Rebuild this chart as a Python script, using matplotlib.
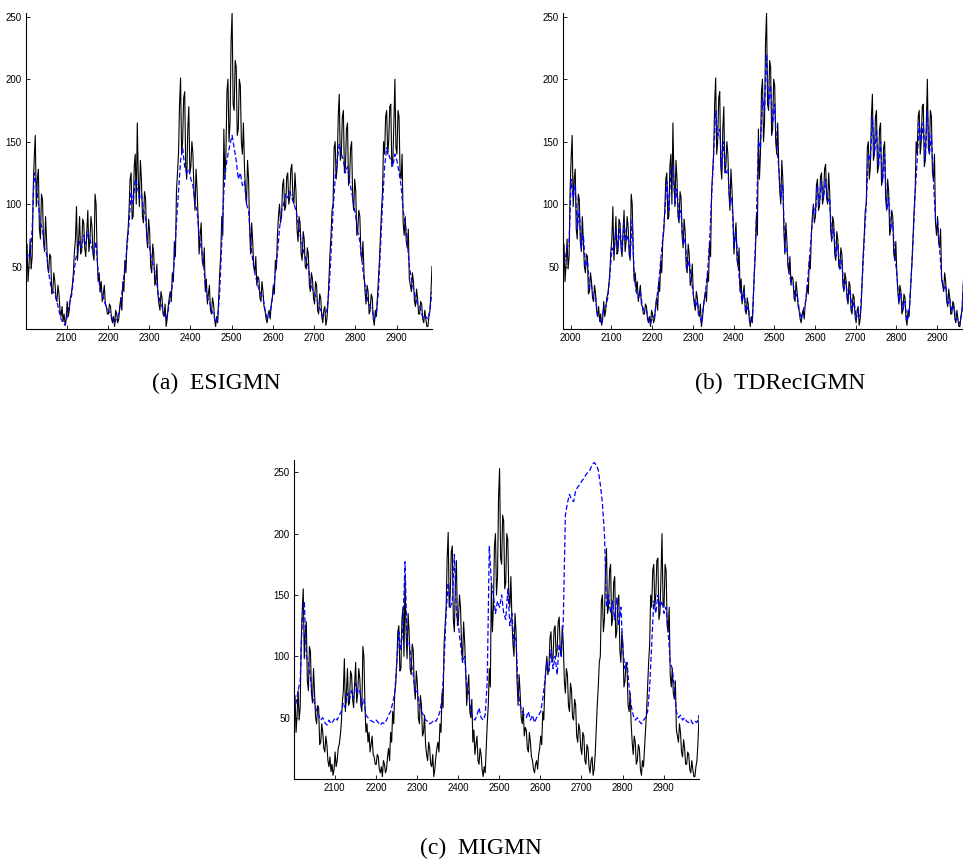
import matplotlib.pyplot as plt
import numpy as np

plt.rcParams['font.family'] = ['Liberation Sans', 'DejaVu Sans']

# sample index of the observed series (every 2.5 months) and of the predictions (every 5)
months_obs = np.arange(2001, 2986.1, 2.5)
months = np.arange(2001, 2987, 5)

# observed series (black)
sunspots = [55, 68, 38, 52, 72, 48, 58, 112, 137, 155, 98, 120, 128, 80, 72, 108, 104, 70, 62, 90,
            70, 50, 45, 60, 58, 28, 30, 45, 38, 25, 22, 35, 28, 15, 10, 18, 6, 12, 3, 8,
            22, 10, 15, 25, 28, 35, 45, 62, 72, 98, 55, 70, 90, 60, 62, 88, 85, 65, 58, 78,
            95, 62, 70, 90, 82, 60, 55, 108, 100, 60, 38, 45, 30, 38, 22, 28, 35, 20, 18, 12,
            12, 20, 18, 8, 5, 10, 2, 15, 12, 5, 8, 18, 25, 15, 38, 30, 55, 45, 70, 78,
            95, 120, 125, 88, 90, 130, 140, 100, 165, 120, 98, 135, 120, 90, 85, 110, 105, 75, 65, 88,
            78, 50, 45, 68, 60, 35, 38, 52, 28, 20, 15, 30, 25, 12, 10, 20, 2, 8, 18, 25,
            30, 22, 45, 38, 70, 58, 110, 125, 140, 180, 201, 140, 150, 185, 190, 130, 120, 160, 178, 125,
            130, 150, 140, 110, 95, 128, 112, 90, 60, 75, 85, 55, 50, 65, 30, 40, 20, 28, 35, 15,
            12, 25, 20, 8, 2, 10, 5, 25, 45, 60, 90, 75, 160, 120, 140, 190, 200, 150, 165, 230,
            253, 180, 175, 215, 210, 155, 160, 200, 195, 150, 140, 165, 130, 110, 100, 135, 120, 80, 60, 85,
            70, 50, 45, 58, 35, 42, 40, 25, 22, 38, 30, 18, 15, 8, 5, 12, 15, 8, 20, 25,
            35, 28, 55, 48, 75, 90, 100, 85, 90, 115, 120, 95, 98, 122, 125, 100, 105, 128, 132, 105,
            100, 125, 110, 80, 70, 90, 85, 60, 55, 78, 72, 50, 48, 65, 60, 35, 30, 45, 40, 25,
            20, 38, 35, 15, 12, 28, 25, 10, 5, 15, 18, 3, 8, 20, 40, 60, 75, 95, 100, 145,
            150, 120, 130, 170, 188, 135, 140, 170, 175, 125, 130, 160, 165, 115, 120, 145, 150, 105, 95, 120,
            110, 75, 80, 95, 90, 60, 55, 70, 45, 30, 20, 35, 30, 12, 15, 28, 25, 8, 3, 15,
            10, 25, 40, 55, 75, 95, 110, 150, 140, 170, 175, 140, 150, 178, 180, 130, 135, 165, 200, 145,
            140, 175, 170, 125, 120, 140, 85, 75, 90, 70, 65, 80, 40, 35, 30, 45, 38, 22, 18, 32,
            25, 12, 12, 22, 20, 8, 5, 15, 8, 2, 2, 10, 15, 30, 50]

# (a) ESIGMN prediction
esigmn = [50, 60, 58, 80, 125, 115, 100, 85, 80, 65,
          60, 45, 35, 30, 28, 22, 15, 8, 5, 3,
          10, 20, 25, 40, 55, 62, 70, 65, 75, 68,
          78, 72, 65, 60, 70, 45, 30, 28, 22, 18,
          15, 12, 8, 5, 8, 12, 22, 35, 50, 65,
          85, 110, 100, 120, 115, 105, 108, 95, 90, 70,
          65, 55, 50, 42, 30, 22, 18, 12, 8, 15,
          25, 35, 55, 85, 110, 135, 145, 130, 125, 128,
          120, 115, 100, 95, 75, 65, 55, 35, 25, 22,
          15, 12, 5, 8, 30, 70, 110, 130, 140, 148,
          155, 145, 135, 120, 125, 115, 118, 100, 95, 70,
          55, 45, 38, 32, 28, 25, 15, 8, 10, 18,
          30, 45, 60, 80, 95, 100, 108, 105, 110, 105,
          100, 95, 85, 75, 68, 60, 55, 50, 38, 32,
          28, 25, 18, 15, 10, 12, 15, 30, 60, 95,
          120, 135, 148, 140, 135, 125, 130, 118, 110, 100,
          90, 78, 70, 55, 40, 30, 22, 18, 15, 8,
          12, 30, 65, 100, 130, 145, 140, 135, 130, 140,
          135, 125, 115, 95, 85, 70, 50, 40, 32, 25,
          20, 18, 12, 8, 10, 8, 15, 30]

# (b) TDRecIGMN prediction
tdrecigmn = [52, 55, 65, 70, 120, 105, 115, 80, 95, 65,
             75, 50, 55, 32, 35, 25, 25, 10, 8, 4,
             18, 18, 25, 42, 65, 60, 80, 65, 80, 62,
             85, 70, 75, 58, 88, 42, 30, 25, 30, 18,
             14, 15, 7, 4, 10, 10, 24, 36, 55, 72,
             92, 118, 95, 128, 130, 100, 112, 88, 95, 68,
             72, 48, 55, 40, 28, 18, 22, 12, 5, 18,
             30, 45, 70, 105, 140, 175, 155, 160, 128, 150,
             125, 128, 100, 105, 65, 78, 52, 32, 22, 30,
             14, 18, 5, 6, 45, 88, 150, 145, 185, 175,
             220, 180, 195, 165, 180, 145, 130, 105, 115, 62,
             65, 45, 38, 38, 25, 28, 16, 8, 15, 20,
             35, 55, 75, 98, 92, 115, 100, 118, 105, 120,
             102, 105, 72, 80, 58, 68, 48, 55, 32, 38,
             22, 32, 15, 22, 8, 15, 10, 38, 72, 100,
             140, 135, 170, 140, 160, 130, 150, 118, 140, 95,
             105, 80, 85, 58, 45, 22, 28, 16, 22, 6,
             12, 40, 72, 108, 135, 165, 150, 165, 135, 175,
             140, 155, 118, 88, 88, 65, 42, 32, 35, 20,
             24, 14, 18, 7, 8, 4, 14, 45]

# (c) MIGMN prediction
migmn = [55, 62, 72, 80, 130, 145, 100, 95, 82, 68,
         62, 55, 52, 48, 50, 46, 44, 48, 45, 47,
         50, 48, 52, 55, 62, 58, 70, 65, 72, 66,
         78, 70, 72, 60, 65, 52, 50, 48, 47, 46,
         48, 46, 44, 46, 45, 48, 52, 55, 62, 70,
         95, 120, 105, 125, 177, 110, 112, 95, 85, 70,
         72, 60, 55, 52, 48, 47, 45, 46, 48, 47,
         50, 55, 65, 95, 135, 160, 140, 145, 183, 135,
         125, 110, 95, 100, 75, 70, 55, 50, 48, 52,
         58, 50, 48, 52, 80, 190, 160, 150, 135, 145,
         140, 150, 135, 130, 155, 125, 135, 110, 115, 72,
         60, 55, 52, 50, 55, 48, 52, 46, 50, 52,
         55, 65, 80, 95, 88, 105, 90, 100, 85, 110,
         100, 130, 215, 225, 232, 228, 226, 235, 238, 240,
         243, 245, 248, 250, 252, 256, 258, 256, 252, 240,
         225, 200, 140, 150, 135, 145, 130, 148, 125, 140,
         105, 90, 95, 75, 60, 52, 48, 50, 47, 45,
         48, 50, 55, 75, 110, 145, 135, 150, 140, 145,
         135, 140, 120, 95, 90, 75, 55, 50, 52, 48,
         50, 47, 46, 48, 45, 47, 46, 52]

fig = plt.figure(figsize=(9.63, 8.68), dpi=100)
W, H = 963.0, 868.0


def panel(left, top, width, height, shift, pred, xlim, ylim, xticks):
    ax = fig.add_axes([left / W, 1 - (top + height) / H, width / W, height / H])
    ax.plot(months_obs + shift, sunspots, color='black', lw=0.8)
    ax.plot(months + shift, pred, color='blue', lw=0.9, ls=(0, (4, 2)))
    ax.set_xlim(xlim)
    ax.set_ylim(ylim)
    ax.set_xticks(xticks)
    ax.set_yticks([50, 100, 150, 200, 250])
    ax.spines['top'].set_visible(False)
    ax.spines['right'].set_visible(False)
    ax.spines['left'].set_linewidth(0.8)
    ax.spines['bottom'].set_linewidth(0.8)
    ax.tick_params(direction='in', length=3, width=0.6, labelsize=7, pad=3)
    return ax


panel(26, 13, 406, 316, 0, esigmn, (2001, 2986), (0, 253), range(2100, 3000, 100))
panel(563, 13, 401, 316, -20, tdrecigmn, (1981, 2966), (0, 253), range(2000, 3000, 100))
panel(294, 460, 405, 319, 0, migmn, (2001, 2986), (0, 260), range(2100, 3000, 100))

cap = dict(family=['Liberation Serif', 'DejaVu Serif'], fontsize=17, ha='center', va='center')
fig.text(216 / W, 1 - 383 / H, '(a)  ESIGMN', **cap)
fig.text(780 / W, 1 - 383 / H, '(b)  TDRecIGMN', **cap)
fig.text(481 / W, 1 - 848 / H, '(c)  MIGMN', **cap)

plt.savefig('out.png', dpi=100)
